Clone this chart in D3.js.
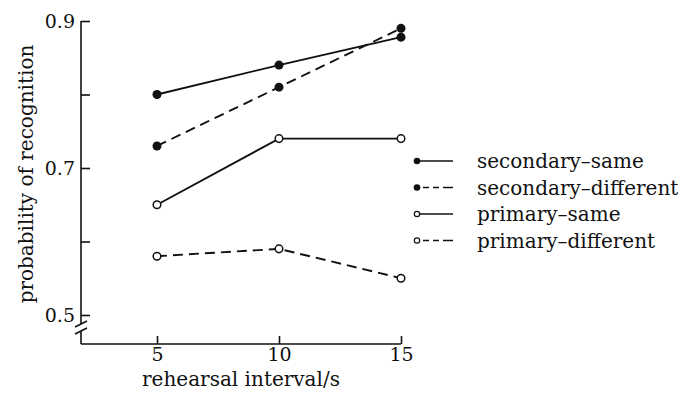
<!DOCTYPE html>
<html>
<head>
<meta charset="utf-8">
<script src="https://cdn.jsdelivr.net/npm/d3@7"></script>
<style>
  body { margin: 0; background: #fff; }
  text { font-family: "DejaVu Serif", "Liberation Serif", serif; fill: #111; }
  .axis text { font-size: 19px; }
  .axis line, .axis-line { stroke: #111; stroke-width: 1.6; }
</style>
</head>
<body>
<div id="chart"></div>
<script>
// data
const intervals = [5, 10, 15];
const seriesNames = ['secondary–same', 'secondary–different', 'primary–same', 'primary–different'];
const secondarySame = [0.80, 0.84, 0.878];
const secondaryDifferent = [0.73, 0.81, 0.89];
const primarySame = [0.65, 0.74, 0.74];
const primaryDifferent = [0.58, 0.59, 0.55];
const yTickValues = [0.5, 0.6, 0.7, 0.8, 0.9];
const yTickLabels = ['0.5', '', '0.7', '', '0.9'];
const xTickLabels = ['5', '10', '15'];
const xTitle = 'rehearsal interval/s';
const yTitle = 'probability of recognition';

const series = [
  { name: seriesNames[0], values: secondarySame, filled: true, dashed: false },
  { name: seriesNames[1], values: secondaryDifferent, filled: true, dashed: true },
  { name: seriesNames[2], values: primarySame, filled: false, dashed: false },
  { name: seriesNames[3], values: primaryDifferent, filled: false, dashed: true }
];

const width = 678, height = 395;
const margin = { top: 21, left: 81 };
const plotH = 323; // distance from 0.9 tick down to the x axis

const svg = d3.select('#chart')
  .append('svg')
  .attr('width', width)
  .attr('height', height);

const g = svg.append('g')
  .attr('transform', 'translate(' + margin.left + ',' + margin.top + ')');

// scales
const x = d3.scaleLinear()
  .domain([5, 15])
  .range([76, 320]);

const y = d3.scaleLinear()
  .domain([0.5, 0.9])
  .range([294, 0]);

// X AXIS (ticks point inward)
const xAxis = d3.axisBottom(x)
  .tickValues(intervals)
  .tickFormat((d, i) => xTickLabels[i])
  .tickSizeInner(-8)
  .tickSizeOuter(0)
  .tickPadding(3.5);

g.append('g')
  .attr('class', 'axis axis--x')
  .attr('transform', 'translate(0,' + plotH + ')')
  .call(xAxis)
  .call(a => a.select('.domain').remove());

g.append('line')
  .attr('class', 'axis-line')
  .attr('x1', 0)
  .attr('x2', x(15))
  .attr('y1', plotH)
  .attr('y2', plotH);

// Y AXIS
const yAxis = d3.axisLeft(y)
  .tickValues(yTickValues)
  .tickFormat((d, i) => yTickLabels[i])
  .tickSizeInner(-9)
  .tickSizeOuter(0)
  .tickPadding(6);

g.append('g')
  .attr('class', 'axis axis--y')
  .call(yAxis)
  .call(a => a.select('.domain').remove());

// axis line with a break just below 0.5
const breakTop = y(0.5) + 9, breakBottom = y(0.5) + 16;

g.append('line')
  .attr('class', 'axis-line')
  .attr('x1', 0).attr('x2', 0)
  .attr('y1', y(0.9)).attr('y2', breakTop);

g.append('line')
  .attr('class', 'axis-line')
  .attr('x1', 0).attr('x2', 0)
  .attr('y1', breakBottom).attr('y2', plotH);

g.selectAll('.break-mark')
  .data([breakTop, breakBottom])
  .enter().append('line')
  .attr('class', 'axis-line break-mark')
  .attr('x1', -6).attr('x2', 6)
  .attr('y1', d => d + 3).attr('y2', d => d - 3);

// axis titles
g.append('text')
  .attr('x', (0 + x(15)) / 2)
  .attr('y', plotH + 42)
  .attr('text-anchor', 'middle')
  .style('font-size', '20px')
  .text(xTitle);

g.append('text')
  .attr('transform', 'translate(' + (33 - margin.left) + ',' + (174 - margin.top) + ') rotate(-90)')
  .attr('text-anchor', 'middle')
  .style('font-size', '20px')
  .text(yTitle);

// LINES
const line = d3.line()
  .x((d, i) => x(intervals[i]))
  .y(d => y(d));

g.selectAll('.series-line')
  .data(series)
  .enter().append('path')
  .attr('class', 'series-line')
  .attr('fill', 'none')
  .attr('stroke', '#111')
  .attr('stroke-width', 1.9)
  .attr('stroke-dasharray', d => d.dashed ? '10,6' : null)
  .attr('d', d => line(d.values));

// POINTS
series.forEach(s => {
  g.selectAll(null)
    .data(s.values)
    .enter().append('circle')
    .attr('cx', (d, i) => x(intervals[i]))
    .attr('cy', d => y(d))
    .attr('r', s.filled ? 4.5 : 3.8)
    .attr('fill', s.filled ? '#111' : '#fff')
    .attr('stroke', '#111')
    .attr('stroke-width', s.filled ? 0 : 1.5);
});

// LEGEND
const legend = svg.append('g')
  .attr('transform', 'translate(417,161)');

const rows = legend.selectAll('.legend-row')
  .data(series)
  .enter().append('g')
  .attr('class', 'legend-row')
  .attr('transform', (d, i) => 'translate(0,' + (i * 26.5) + ')');

rows.append('line')
  .attr('x1', 0).attr('x2', 36)
  .attr('y1', 0).attr('y2', 0)
  .attr('stroke', '#111')
  .attr('stroke-width', 1.5)
  .attr('stroke-dasharray', d => d.dashed ? '0,6,6,4,6,4,6' : null);

rows.append('circle')
  .attr('r', d => d.filled ? 3.3 : 2.7)
  .attr('fill', d => d.filled ? '#111' : '#fff')
  .attr('stroke', '#111')
  .attr('stroke-width', d => d.filled ? 0 : 1.2);

rows.append('text')
  .attr('x', 60)
  .attr('dy', '0.35em')
  .style('font-size', '20px')
  .text(d => d.name);
</script>
</body>
</html>
